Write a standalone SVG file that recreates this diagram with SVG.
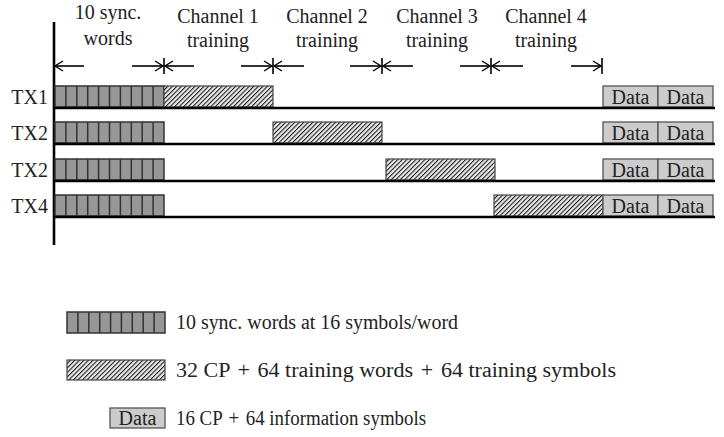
<svg xmlns="http://www.w3.org/2000/svg" width="724" height="437" viewBox="0 0 724 437">
<defs>
<pattern id="hatch" patternUnits="userSpaceOnUse" width="3.2" height="3.2" patternTransform="rotate(45)">
<rect width="3.2" height="3.2" fill="#e8e8e8"/>
<line x1="0" y1="0" x2="0" y2="3.2" stroke="#111" stroke-width="2"/>
</pattern>
<marker id="ah" markerUnits="userSpaceOnUse" markerWidth="12" markerHeight="12" viewBox="0 0 12 12" refX="10" refY="6" orient="auto">
<path d="M2,1 L10,6 L2,11" fill="none" stroke="#000" stroke-width="1.4"/>
</marker>
</defs>
<style>
text{font-family:"Liberation Serif","Times New Roman",serif;fill:#222;font-size:20px}
.c{text-anchor:middle}
.r{text-anchor:end}
.sync{fill:#979797;stroke:#333;stroke-width:1.5}
.div{stroke:#333;stroke-width:1.5}
.hat{fill:url(#hatch);stroke:#444;stroke-width:1.2}
.data{fill:#ccc;stroke:#555;stroke-width:1.3}
.base{stroke:#000;stroke-width:2.6}
.arr{stroke:#000;stroke-width:1.6;fill:none;marker-end:url(#ah)}
.tick{stroke:#000;stroke-width:1.6}
</style>

<g id="headers">
<text class="c" x="108" y="19">10 sync.</text>
<text class="c" x="108" y="45">words</text>
<text class="c" x="218" y="23">Channel 1</text>
<text class="c" x="218" y="47">training</text>
<text class="c" x="327" y="23">Channel 2</text>
<text class="c" x="327" y="47">training</text>
<text class="c" x="437" y="23">Channel 3</text>
<text class="c" x="437" y="47">training</text>
<text class="c" x="546" y="23">Channel 4</text>
<text class="c" x="546" y="47">training</text>
</g>

<g id="connectors">
<line class="base" x1="54" y1="22" x2="54" y2="245"/>
<path class="arr" d="M84,66 H55"/>
<path class="arr" d="M132,66 H163"/>
<line class="tick" x1="164" y1="58" x2="164" y2="74"/>
<path class="arr" d="M194,66 H165"/>
<path class="arr" d="M241,66 H272"/>
<line class="tick" x1="273" y1="58" x2="273" y2="74"/>
<path class="arr" d="M304,66 H274"/>
<path class="arr" d="M350,66 H381"/>
<line class="tick" x1="382" y1="58" x2="382" y2="74"/>
<path class="arr" d="M413,66 H383"/>
<path class="arr" d="M460,66 H490"/>
<line class="tick" x1="491" y1="58" x2="491" y2="74"/>
<path class="arr" d="M523,66 H492"/>
<path class="arr" d="M571,66 H601"/>
<line class="tick" x1="602" y1="58" x2="602" y2="74"/>
</g>

<g id="row-tx1">
<text class="r" x="48" y="104">TX1</text>
<rect class="sync" x="55" y="86" width="109" height="21"/>
<path class="div" d="M65.9,86v21M76.8,86v21M87.7,86v21M98.6,86v21M109.5,86v21M120.4,86v21M131.3,86v21M142.2,86v21M153.1,86v21"/>
<rect class="hat" x="164" y="86" width="109" height="21"/>
<rect class="data" x="603" y="86" width="55" height="21"/>
<rect class="data" x="658" y="86" width="55" height="21"/>
<text class="c" x="630.5" y="104">Data</text>
<text class="c" x="685.5" y="104">Data</text>
<line class="base" x1="54" y1="108" x2="715" y2="108"/>
</g>

<g id="row-tx2a">
<text class="r" x="48" y="140">TX2</text>
<rect class="sync" x="55" y="122" width="109" height="21"/>
<path class="div" d="M65.9,122v21M76.8,122v21M87.7,122v21M98.6,122v21M109.5,122v21M120.4,122v21M131.3,122v21M142.2,122v21M153.1,122v21"/>
<rect class="hat" x="273" y="122" width="109" height="21"/>
<rect class="data" x="603" y="122" width="55" height="21"/>
<rect class="data" x="658" y="122" width="55" height="21"/>
<text class="c" x="630.5" y="140">Data</text>
<text class="c" x="685.5" y="140">Data</text>
<line class="base" x1="54" y1="144" x2="715" y2="144"/>
</g>

<g id="row-tx2b">
<text class="r" x="48" y="177">TX2</text>
<rect class="sync" x="55" y="159" width="109" height="21"/>
<path class="div" d="M65.9,159v21M76.8,159v21M87.7,159v21M98.6,159v21M109.5,159v21M120.4,159v21M131.3,159v21M142.2,159v21M153.1,159v21"/>
<rect class="hat" x="386" y="159" width="109" height="21"/>
<rect class="data" x="603" y="159" width="55" height="21"/>
<rect class="data" x="658" y="159" width="55" height="21"/>
<text class="c" x="630.5" y="177">Data</text>
<text class="c" x="685.5" y="177">Data</text>
<line class="base" x1="54" y1="181" x2="715" y2="181"/>
</g>

<g id="row-tx4">
<text class="r" x="48" y="213">TX4</text>
<rect class="sync" x="55" y="195" width="109" height="21"/>
<path class="div" d="M65.9,195v21M76.8,195v21M87.7,195v21M98.6,195v21M109.5,195v21M120.4,195v21M131.3,195v21M142.2,195v21M153.1,195v21"/>
<rect class="hat" x="494" y="195" width="109" height="21"/>
<rect class="data" x="603" y="195" width="55" height="21"/>
<rect class="data" x="658" y="195" width="55" height="21"/>
<text class="c" x="630.5" y="213">Data</text>
<text class="c" x="685.5" y="213">Data</text>
<line class="base" x1="54" y1="217" x2="715" y2="217"/>
</g>

<g id="legend-sync">
<rect class="sync" x="67" y="312" width="98" height="21"/>
<path class="div" d="M77.9,312v21M88.8,312v21M99.7,312v21M110.6,312v21M121.4,312v21M132.3,312v21M143.2,312v21M154.1,312v21"/>
<text x="176" y="329" textLength="282" lengthAdjust="spacingAndGlyphs">10 sync. words at 16 symbols/word</text>
</g>

<g id="legend-training">
<rect class="hat" x="67" y="360" width="98" height="20"/>
<text x="176" y="377" textLength="440" lengthAdjust="spacingAndGlyphs">32 CP <tspan dx="2">+</tspan> <tspan dx="2">64 training words</tspan> <tspan dx="2">+</tspan> <tspan dx="2">64 training symbols</tspan></text>
</g>

<g id="legend-data">
<rect class="data" x="110" y="408" width="55" height="20"/>
<text class="c" x="137.5" y="425">Data</text>
<text x="176" y="425" textLength="250" lengthAdjust="spacingAndGlyphs">16 CP <tspan dx="2">+</tspan> <tspan dx="2">64 information symbols</tspan></text>
</g>
</svg>
